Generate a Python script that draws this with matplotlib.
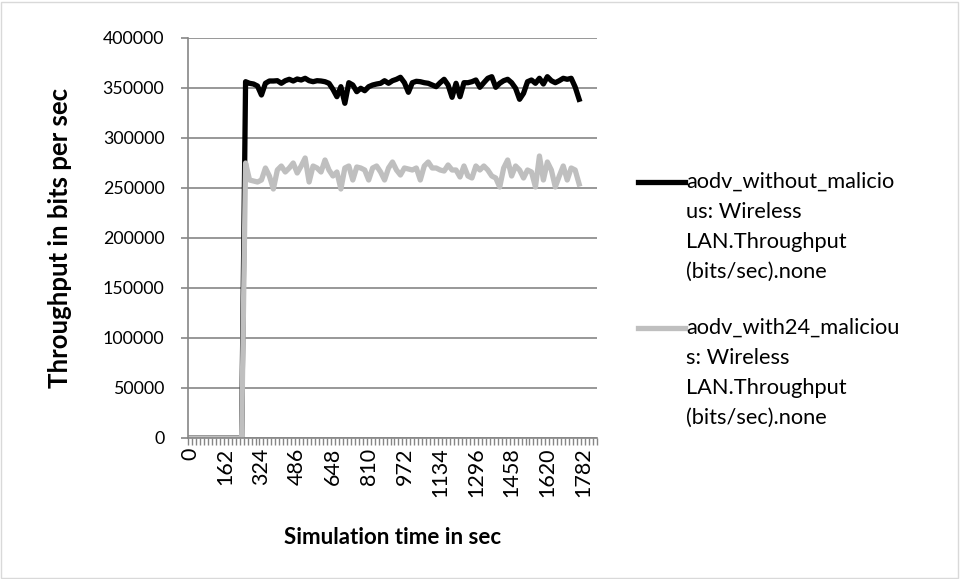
import numpy as np
import matplotlib.pyplot as plt
from matplotlib.lines import Line2D
from matplotlib.patches import Rectangle

plt.rcParams['font.family'] = ['Lato', 'DejaVu Sans']

# category axis: simulation time every 18 s (the axis runs a bit past the data)
time_sec = list(range(0, 1837, 18))
label_every = 9

# throughput (bits/sec)
without_mal = [0, 0, 0, 0, 0, 0, 0, 0, 0, 0, 0, 0, 0, 0,
               356300, 354700, 354000, 352000, 343000, 354700, 357000, 357000, 357300, 354700,
               357300, 358700, 357000, 359000, 358000, 359700, 357300, 356300, 357300, 357000,
               356300, 354700, 348700, 341300, 351300, 334700, 355300, 353000, 346300, 349700,
               347300, 351300, 353000, 354000, 354700, 357300, 354700, 357300, 358700, 360700,
               355300, 345700, 355300, 356700, 356300, 355300, 354700, 353000, 351300, 355300,
               358700, 353000, 340700, 354700, 341300, 355300, 355300, 356300, 358000, 350700,
               355300, 359700, 361300, 350700, 354700, 357300, 358700, 355300, 349700, 338700,
               344700, 356300, 358000, 354700, 359700, 354000, 361300, 357300, 355300, 357300,
               359700, 358700, 359700, 351000, 338700]

with24_mal = [0, 0, 0, 0, 0, 0, 0, 0, 0, 0, 0, 0, 0, 0,
              275000, 258000, 257000, 256000, 258000, 270000, 262000, 249000, 268000, 272000,
              266000, 270000, 275000, 265000, 272000, 280000, 256000, 272000, 270000, 266000,
              278000, 268000, 262000, 266000, 249000, 270000, 272000, 258000, 271000, 270000,
              268000, 258000, 270000, 272000, 266000, 258000, 270000, 276000, 268000, 263000,
              270000, 269000, 268000, 270000, 258000, 272000, 276000, 270000, 270000, 268000,
              267000, 273000, 268000, 268000, 261000, 272000, 262000, 260000, 272000, 268000,
              272000, 268000, 262000, 260000, 251000, 270000, 278000, 262000, 272000, 268000,
              260000, 268000, 266000, 251000, 282000, 258000, 276000, 268000, 251000, 262000,
              272000, 258000, 270000, 268000, 254000]

series_names = ['aodv_without_malicio\nus: Wireless\nLAN.Throughput\n(bits/sec).none',
                'aodv_with24_maliciou\ns: Wireless\nLAN.Throughput\n(bits/sec).none']
colors = ['#000000', '#bfbfbf']

W, H = 960, 579
fig = plt.figure(figsize=(W / 100, H / 100), dpi=100)
ax = fig.add_axes([188 / W, 1 - 438 / H, (597 - 188) / W, 400 / H])

grid_col = '#868686'
x = np.arange(len(without_mal))
ax.plot(x, without_mal, color=colors[0], lw=3.8, solid_joinstyle='round')
ax.plot(x, with24_mal, color=colors[1], lw=3.8, solid_joinstyle='round')

ax.set_xlim(-0.5, len(time_sec) - 0.5)
ax.set_ylim(0, 400000)
ax.set_yticks(range(0, 400001, 50000))
ax.grid(axis='y', color=grid_col, lw=1.2)
ax.set_axisbelow(True)
for s in ['top', 'right']:
    ax.spines[s].set_visible(False)
for s in ['left', 'bottom']:
    ax.spines[s].set_color(grid_col)
    ax.spines[s].set_linewidth(1.2)

# tick marks between categories, labels on every 9th category
ax.set_xticks(np.arange(-0.5, len(time_sec)), labels=[])
lab_idx = list(range(0, len(time_sec), label_every))
ax.set_xticks(lab_idx, labels=[str(time_sec[i]) for i in lab_idx], minor=True)
ax.tick_params(axis='x', which='major', length=5, color=grid_col, width=1)
ax.tick_params(axis='x', which='minor', length=0, rotation=90, labelsize=15.5, pad=7)
ax.tick_params(axis='y', length=5, color=grid_col, width=1.2, labelsize=12.8, pad=12)

fig.text(60 / W, 1 - 238 / H, 'Throughput in bits per sec', rotation=90,
         ha='center', va='center', fontsize=18.5, fontweight='bold')
fig.text(393 / W, 1 - 537 / H, 'Simulation time in sec',
         ha='center', va='center', fontsize=16, fontweight='bold')

# legend, drawn by hand to match the wrapped Excel layout
for k, (name, c) in enumerate(zip(series_names, colors)):
    y0 = 182 + k * 146
    fig.add_artist(Line2D([638 / W, 685 / W], [1 - y0 / H, 1 - y0 / H],
                          transform=fig.transFigure, color=c, lw=3.8))
    for j, line in enumerate(name.split('\n')):
        fig.text(686 / W, 1 - (y0 + 30 * j) / H, line, ha='left', va='center', fontsize=15.7)

fig.add_artist(Rectangle((0.5 / W, 1.5 / H), (W - 3) / W, (H - 3) / H, transform=fig.transFigure,
                         fill=False, edgecolor='#d9d9d9', lw=1))

fig.savefig('out.png', dpi=100)
